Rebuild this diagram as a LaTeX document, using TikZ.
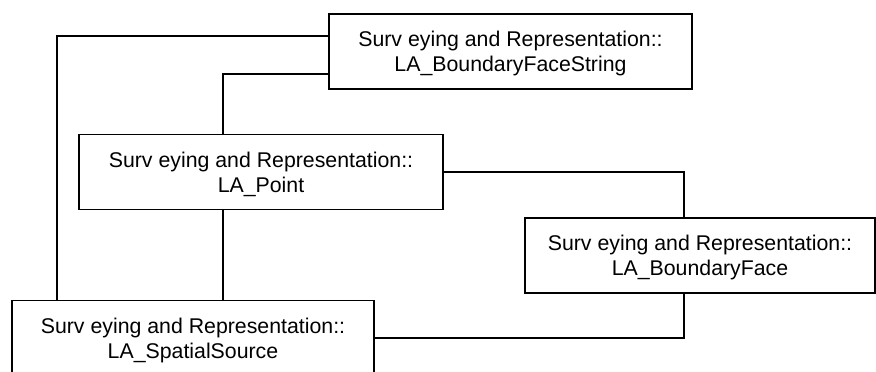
\documentclass[tikz,border=0pt]{standalone}
\usepackage{fontspec}
\setmainfont{Liberation Sans}
\usetikzlibrary{positioning, calc}

\begin{document}
\begin{tikzpicture}[
    x=1pt, y=-1pt,
    % Styles
    cls/.style={ % UML class box
        rectangle,
        draw,
        line width=1.2pt,
        fill=white,
        align=center,
        inner sep=0pt,
        text depth=-3.5pt,
        minimum height=75pt,
        font=\fontsize{21.3}{25}\selectfont
    },
    link/.style={
        line width=1.2pt
    }
]
    \useasboundingbox (0,0) rectangle (876,372);

    % Classes
    \node[cls, minimum width=363pt] (bfs) at (510.5,51.5)
        {Surv eying and Representation::\\LA\_BoundaryFaceString};
    \node[cls, minimum width=364pt] (pt) at (261,172)
        {Surv eying and Representation::\\LA\_Point};
    \node[cls, minimum width=350pt] (bf) at (700,255.5)
        {Surv eying and Representation::\\LA\_BoundaryFace};
    \node[cls, minimum width=362pt] (ss) at (193,338)
        {Surv eying and Representation::\\LA\_SpatialSource};

    % Associations
    \draw[link] ([yshift=15.5pt]bfs.west) -| ([xshift=-136pt]ss.north);
    \draw[link] ([yshift=-22.5pt]bfs.west) -| ([xshift=-38pt]pt.north);
    \draw[link] ([xshift=-38pt]pt.south) -- ([xshift=-38pt]pt.south |- ss.north);
    \draw[link] (pt.east) -| ([xshift=-16pt]bf.north);
    \draw[link] (ss.east) -| ([xshift=-16pt]bf.south);
\end{tikzpicture}
\end{document}
